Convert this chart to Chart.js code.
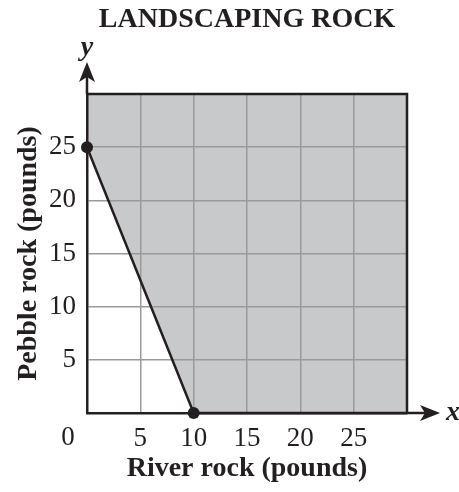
<!DOCTYPE html>
<html>
<head>
<meta charset="utf-8">
<script src="https://cdn.jsdelivr.net/npm/chart.js@4.4.1/dist/chart.umd.min.js"></script>
<style>
  html, body { margin: 0; padding: 0; background: #fff; }
  #wrap { width: 459px; height: 492px; }
</style>
</head>
<body>
<div id="wrap"><canvas id="chart"></canvas></div>
<script>
// boundary line of the inequality
var riverRock = [0, 10, 30];
var pebbleRock = [25, 0, 0];
var xTicks = [0, 5, 10, 15, 20, 25];
var yTicks = [5, 10, 15, 20, 25];

var ink = '#231f20';
var serif = '"Liberation Serif", "Times New Roman", serif';

var pts = riverRock.map(function (x, i) { return { x: x, y: pebbleRock[i] }; });

function arrow(ctx, x, y, dir) {
  ctx.beginPath();
  if (dir == 'up') {
    ctx.moveTo(x, y);
    ctx.lineTo(x - 8, y + 20);
    ctx.lineTo(x, y + 15);
    ctx.lineTo(x + 8, y + 20);
  } else {
    ctx.moveTo(x, y);
    ctx.lineTo(x - 20, y - 8);
    ctx.lineTo(x - 15, y);
    ctx.lineTo(x - 20, y + 8);
  }
  ctx.closePath();
  ctx.fill();
}

var extras = {
  id: 'extras',
  afterDraw: function (chart) {
    var ctx = chart.ctx, a = chart.chartArea;
    var sx = chart.scales.x;
    ctx.save();
    ctx.strokeStyle = ink;
    ctx.fillStyle = ink;
    ctx.lineWidth = 2.5;
    // top and right edge of the box, axis extensions
    ctx.beginPath();
    ctx.moveTo(a.left, a.top);
    ctx.lineTo(a.right, a.top);
    ctx.lineTo(a.right, a.bottom);
    ctx.moveTo(a.left, a.top);
    ctx.lineTo(a.left, a.top - 24);
    ctx.moveTo(a.right, a.bottom);
    ctx.lineTo(a.right + 22, a.bottom);
    ctx.stroke();
    arrow(ctx, a.left, a.top - 32, 'up');
    arrow(ctx, a.right + 33, a.bottom, 'right');

    ctx.textAlign = 'center';
    ctx.textBaseline = 'middle';
    ctx.font = 'italic bold 28px ' + serif;
    ctx.fillText('y', a.left, a.top - 46);
    ctx.fillText('x', a.right + 46, a.bottom);

    ctx.font = '27px ' + serif;
    ctx.fillText('0', sx.getPixelForValue(0) - 19, a.bottom + 25);

    ctx.font = 'bold 28px ' + serif;
    ctx.fillText('LANDSCAPING ROCK', (a.left + a.right) / 2, 20);
    ctx.restore();
  }
};

new Chart(document.getElementById('chart'), {
  type: 'scatter',
  data: {
    datasets: [{
      data: pts,
      showLine: true,
      fill: 'end',
      clip: false,
      backgroundColor: '#c8c9cb',
      borderColor: ink,
      borderWidth: 2.5,
      pointRadius: [6, 6, 0],
      pointBackgroundColor: ink,
      pointBorderWidth: 0
    }]
  },
  options: {
    responsive: true,
    maintainAspectRatio: false,
    animation: false,
    layout: { padding: { top: 94, right: 52, left: 0, bottom: 0 } },
    plugins: {
      legend: { display: false },
      tooltip: { enabled: false },
      filler: { drawTime: 'beforeDraw' }
    },
    scales: {
      x: {
        type: 'linear',
        min: 0,
        max: 30,
        afterFit: function (s) { s.height = 79; },
        afterBuildTicks: function (s) { s.ticks = xTicks.map(function (v) { return { value: v }; }); },
        ticks: {
          color: ink,
          font: { family: serif, size: 27 },
          padding: 10,
          callback: function (v) { return v === 0 ? '' : v; }
        },
        grid: { color: '#9a9a9a', lineWidth: 1.5, drawTicks: false },
        border: { color: ink, width: 2.5 },
        title: {
          display: true,
          text: 'River rock (pounds)',
          color: ink,
          font: { family: serif, size: 28, weight: 'bold' },
          padding: { top: 0, bottom: 6 }
        }
      },
      y: {
        type: 'linear',
        min: 0,
        max: 30,
        afterFit: function (s) { s.width = 87; },
        afterBuildTicks: function (s) { s.ticks = yTicks.map(function (v) { return { value: v }; }); },
        ticks: {
          color: ink,
          font: { family: serif, size: 27 },
          padding: 11
        },
        grid: { color: '#9a9a9a', lineWidth: 1.5, drawTicks: false },
        border: { color: ink, width: 2.5 },
        title: {
          display: true,
          text: 'Pebble rock (pounds)',
          color: ink,
          font: { family: serif, size: 28, weight: 'bold' },
          padding: { top: 12, bottom: 0 }
        }
      }
    }
  },
  plugins: [extras]
});
</script>
</body>
</html>
